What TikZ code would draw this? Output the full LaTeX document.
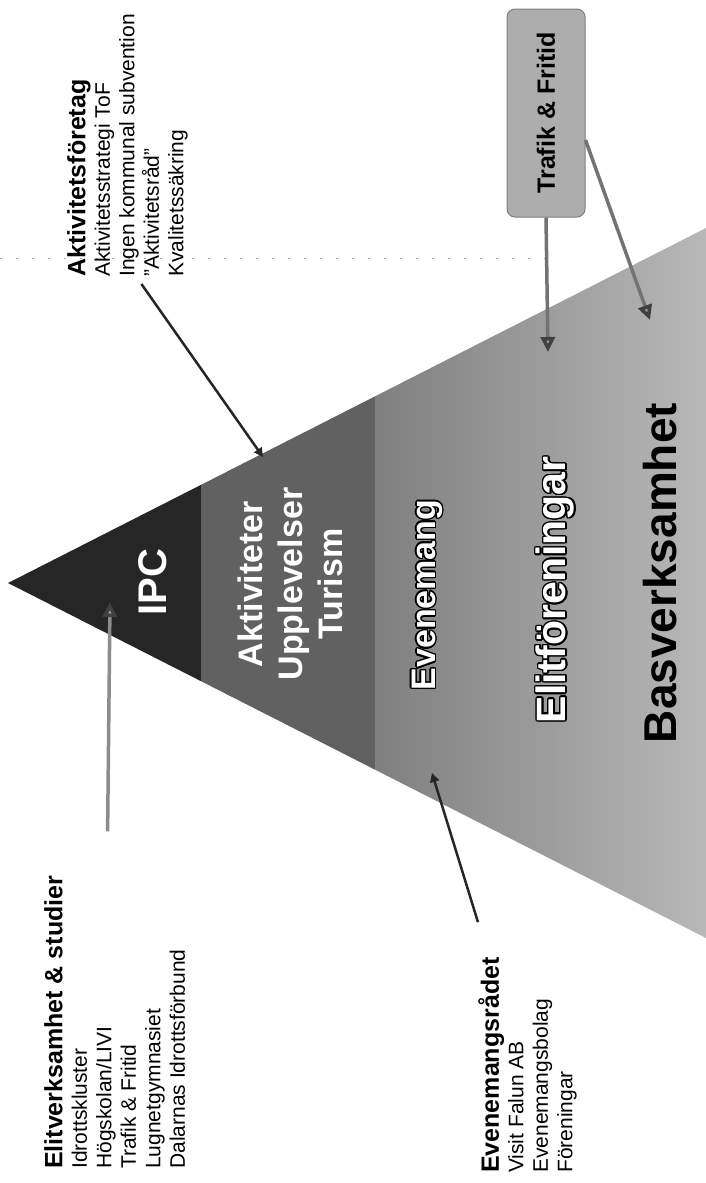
\documentclass[tikz,border=0pt]{standalone}
\usepackage{fontspec}
\setmainfont{Liberation Sans}
\usepackage[copies]{contour}
\contourlength{1.4pt}
\usetikzlibrary{arrows.meta}

\tikzset{
  txtblock/.style={rotate=90, anchor=north west, align=left, inner sep=0pt,
    font=\fontsize{21}{24.5}\selectfont},
  layer/.style={rotate=90, align=center, inner sep=0pt, text=white,
    font=\bfseries\fontsize{34}{40}\selectfont},
  linkline/.style={draw=black!85, line width=2.5pt,
    -{Triangle[length=9pt,width=9pt]}},
  greyarrow/.style={draw=black!55, line width=3.5pt,
    -{Triangle[length=15pt,width=14pt,fill=black!40,color=black!75]}},
  tofbox/.style={rotate=90, minimum width=208pt, minimum height=78pt,
    rounded corners=8pt, fill=black!32, draw=black!50, line width=1pt,
    font=\bfseries\fontsize{25}{25}\selectfont}
}

\begin{document}
\begin{tikzpicture}[x=1pt, y=1pt]
  \path[use as bounding box, fill=white] (0,0) rectangle (706,-1183);
  \draw[black!35, line width=0.8pt, dash pattern=on 2pt off 14pt] (0,-258) -- (560,-258);

  \coordinate (apex) at (8,-583);
  \coordinate (topr) at (706,-228);
  \coordinate (botr) at (706,-938);
  \begin{scope}
    \clip (apex) -- (topr) -- (botr) -- cycle;
    \fill[black!85] (0,0) rectangle (201,-1183);
    \fill[black!62] (201,0) rectangle (375,-1183);
    \shade[left color=black!50, right color=black!28] (375,0) rectangle (706,-1183);
  \end{scope}

  \node[layer, font=\bfseries\fontsize{40}{40}\selectfont] (ipc) at (153,-582) {IPC};
  \node[layer] (aktiv) at (290,-584) {Aktiviteter\\Upplevelser\\Turism};
  \node[layer] (evenemang) at (428,-595) {\contour{black}{Evenemang}};
  \node[layer, font=\bfseries\fontsize{41}{41}\selectfont] (elitfor) at (556,-590) {\contour{black}{Elitföreningar}};
  \node[layer, text=black, font=\bfseries\fontsize{46}{46}\selectfont] (basverk) at (660,-573) {Basverksamhet};

  \node[txtblock] (aktforetag) at (67,-277) {{\fontsize{25}{24.5}\selectfont\bfseries Aktivitetsföretag}\\
    Aktivitetsstrategi ToF\\Ingen kommunal subvention\\”Aktivitetsråd”\\Kvalitetssäkring};
  \node[txtblock] (elitstud) at (44,-1169) {{\fontsize{25}{24.5}\selectfont\bfseries Elitverksamhet \& studier}\\
    Idrottskluster\\Högskolan/LIVI\\Trafik \& Fritid\\Lugnetgymnasiet\\Dalarnas Idrottsförbund};
  \node[txtblock] (evradet) at (478,-1173) {{\fontsize{25}{24.5}\selectfont\bfseries Evenemangsrådet}\\
    Visit Falun AB\\Evenemangsbolag\\Föreningar};

  \node[tofbox] (trafik) at (546,-113) {Trafik \& Fritid};

  \coordinate (ipcpt) at (110,-602);
  \coordinate (aktpt) at (263,-457);
  \coordinate (evpt) at (432,-773);
  \coordinate (elitpt) at (548,-352);
  \coordinate (baspt) at (650,-320);

  \draw[linkline] ([shift={(14pt,-7pt)}]aktforetag.west) -- (aktpt);
  \draw[linkline] ([yshift=35pt]evradet.north east) -- (evpt);
  \draw[greyarrow, draw=black!45] ([shift={(-7pt,44pt)}]elitstud.east) -- (ipcpt);
  \draw[greyarrow] (trafik.west) -- (elitpt);
  \draw[greyarrow] ([yshift=-27pt]trafik.south) -- (baspt);
\end{tikzpicture}
\end{document}
